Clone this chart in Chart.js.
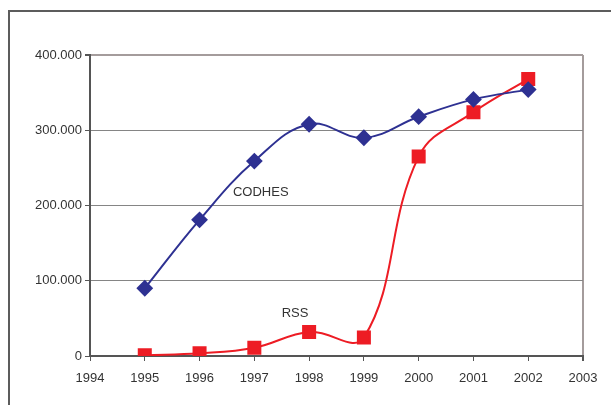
<!DOCTYPE html>
<html>
<head>
<meta charset="utf-8">
<script src="https://cdn.jsdelivr.net/npm/chart.js@4.4.0/dist/chart.umd.min.js"></script>
<style>
  html, body { margin: 0; padding: 0; background: #fff; }
  #wrap { position: relative; width: 611px; height: 405px; overflow: hidden; }
  #frame { position: absolute; left: 8px; top: 10px; width: 700px; height: 500px;
           border: 2px solid #5c5c5c; box-sizing: border-box; }
  #c { position: absolute; left: 0; top: 0; }
</style>
</head>
<body>
<div id="wrap">
  <div id="frame"></div>
  <canvas id="c" width="611" height="405"></canvas>
</div>
<script>
  // Data
  const years = [1995, 1996, 1997, 1998, 1999, 2000, 2001, 2002];
  const codhes = [90000, 181000, 259000, 308000, 290000, 318000, 341000, 354000];
  const rss = [1000, 3500, 11000, 32000, 24500, 265000, 324000, 368000];
  const yTicks = [0, 100000, 200000, 300000, 400000];

  // in-plot text labels (data coordinates)
  const seriesLabels = [
    { text: 'CODHES', x: 1996.61, y: 218000 },
    { text: 'RSS', x: 1997.5, y: 57000 }
  ];

  const fontFamily = '"Liberation Sans", Arial, sans-serif';

  const fmt = (v) => v === 0 ? '0' : String(v).replace(/\B(?=(\d{3})+(?!\d))/g, '.');

  const labelPlugin = {
    id: 'labelPlugin',
    afterDatasetsDraw(chart){
      const { ctx, scales } = chart;
      ctx.save();
      ctx.font = '13px ' + fontFamily;
      ctx.fillStyle = '#333';
      ctx.textAlign = 'left';
      ctx.textBaseline = 'middle';
      seriesLabels.forEach(l => {
        ctx.fillText(l.text, scales.x.getPixelForValue(l.x), scales.y.getPixelForValue(l.y));
      });
      ctx.restore();
    }
  };

  new Chart(document.getElementById('c'), {
    type: 'line',
    data: {
      datasets: [
        {
          label: 'CODHES',
          data: years.map((y, i) => ({ x: y, y: codhes[i] })),
          borderColor: '#2e3192',
          backgroundColor: '#2e3192',
          borderWidth: 2,
          pointStyle: 'rectRot',
          pointRadius: 7,
          pointHoverRadius: 7,
          tension: 0.4
        },
        {
          label: 'RSS',
          data: years.map((y, i) => ({ x: y, y: rss[i] })),
          borderColor: '#ed1c24',
          backgroundColor: '#ed1c24',
          borderWidth: 2,
          pointStyle: 'rect',
          pointRadius: 8.5,
          pointHoverRadius: 8.5,
          tension: 0.4
        }
      ]
    },
    options: {
      responsive: false,
      animation: false,
      layout: { padding: { top: 55, right: 28, left: 0, bottom: 0 } },
      plugins: { legend: { display: false }, tooltip: { enabled: false } },
      scales: {
        x: {
          type: 'linear',
          min: 1994, max: 2003,
          ticks: { stepSize: 1, color: '#333', font: { family: fontFamily, size: 13 },
                   padding: 10, maxRotation: 0, callback: v => String(v) },
          grid: {
            drawOnChartArea: true,
            tickLength: 5,
            tickColor: '#555',
            color: c => c.tick && c.tick.value === 2003 ? '#a49c9c' : 'rgba(0,0,0,0)',
            lineWidth: c => c.tick && c.tick.value === 2003 ? 2 : 1
          },
          border: { color: '#555', width: 2 },
          afterFit: s => { s.height = 49; }
        },
        y: {
          min: 0, max: 400000,
          afterBuildTicks: s => { s.ticks = yTicks.map(v => ({ value: v })); },
          ticks: { color: '#333', font: { family: fontFamily, size: 13 }, padding: 3,
                   callback: v => fmt(v) },
          grid: {
            tickLength: 5,
            tickColor: '#555',
            color: c => c.tick && c.tick.value === 400000 ? '#a49c9c' : '#858585',
            lineWidth: c => c.tick && c.tick.value === 400000 ? 2 : 1
          },
          border: { color: '#555', width: 2 },
          afterFit: s => { s.width = 90; }
        }
      }
    },
    plugins: [labelPlugin]
  });
</script>
</body>
</html>
